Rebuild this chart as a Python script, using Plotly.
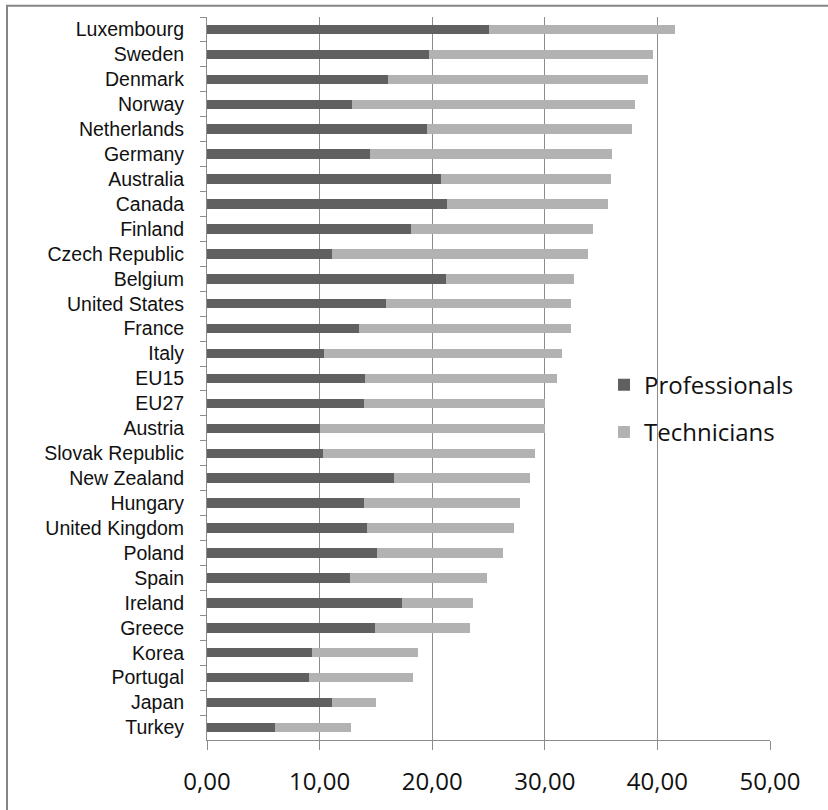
import plotly.graph_objects as go

countries = ["Luxembourg", "Sweden", "Denmark", "Norway", "Netherlands", "Germany",
             "Australia", "Canada", "Finland", "Czech Republic", "Belgium", "United States",
             "France", "Italy", "EU15", "EU27", "Austria", "Slovak Republic", "New Zealand",
             "Hungary", "United Kingdom", "Poland", "Spain", "Ireland", "Greece", "Korea",
             "Portugal", "Japan", "Turkey"]
professionals = [25.0, 19.7, 16.1, 12.9, 19.5, 14.5, 20.8, 21.3, 18.1, 11.1, 21.2, 15.9,
                 13.5, 10.4, 14.0, 13.9, 10.0, 10.3, 16.6, 13.9, 14.2, 15.1, 12.7, 17.3,
                 14.9, 9.3, 9.1, 11.1, 6.0]
totals = [41.6, 39.6, 39.2, 38.0, 37.7, 36.0, 35.9, 35.6, 34.3, 33.8, 32.6, 32.3,
          32.3, 31.5, 31.1, 30.0, 30.0, 29.1, 28.7, 27.8, 27.3, 26.3, 24.9, 23.6,
          23.4, 18.7, 18.3, 15.0, 12.8]
technicians = [round(t - p, 2) for t, p in zip(totals, professionals)]
tick_values = [0, 10, 20, 30, 40, 50]
tick_labels = ["0,00", "10,00", "20,00", "30,00", "40,00", "50,00"]

W, H = 828, 810
L, R, T, B = 207, 770, 17.3, 740.3

fig = go.Figure()
fig.add_trace(go.Bar(y=countries, x=professionals, orientation="h", name="Professionals",
                     marker=dict(color="#606060", line=dict(width=0)), legendgroup="a"))
fig.add_trace(go.Bar(y=countries, x=technicians, orientation="h", name="Technicians",
                     marker=dict(color="#b2b2b2", line=dict(width=0)), legendgroup="b"))

def px_x(p):
    return (p - L) / (R - L)

def px_y(p):
    return (B - p) / (B - T)

fig.update_layout(
    width=W, height=H,
    margin=dict(l=L, r=W - R, t=T, b=H - B, pad=0, autoexpand=False),
    barmode="stack", bargap=0.62,
    plot_bgcolor="white", paper_bgcolor="white",
    showlegend=True,
    legend=dict(x=px_x(604), y=px_y(363), xanchor="left", yanchor="top",
                traceorder="grouped", tracegroupgap=13,
                font=dict(family="Open Sans", size=24, color="#111"),
                bgcolor="rgba(0,0,0,0)"),
    xaxis=dict(range=[0, 50], tickvals=tick_values, ticktext=tick_labels,
               automargin=False,
               showgrid=True, gridcolor="#8c8c8c", gridwidth=1, zeroline=False,
               showline=True, linecolor="#8c8c8c", linewidth=1,
               ticks="outside", ticklen=9, tickcolor="#8c8c8c",
               ticklabelstandoff=11,
               tickfont=dict(family="Open Sans", size=24, color="#111")),
    yaxis=dict(type="category", categoryorder="array", categoryarray=countries,
               autorange="reversed", automargin=False,
               showgrid=False, zeroline=False,
               showline=True, linecolor="#8c8c8c", linewidth=1,
               ticks="outside", ticklen=6, tickcolor="#8c8c8c", tickson="boundaries",
               ticklabelstandoff=18,
               tickfont=dict(family="Liberation Sans", size=19.5, color="#111")),
    shapes=[dict(type="rect", xref="paper", yref="paper",
                 x0=px_x(7), x1=px_x(840), y0=px_y(6), y1=px_y(830),
                 line=dict(color="#858585", width=2), fillcolor="rgba(0,0,0,0)",
                 layer="above")],
)

fig.write_html("out.html")
